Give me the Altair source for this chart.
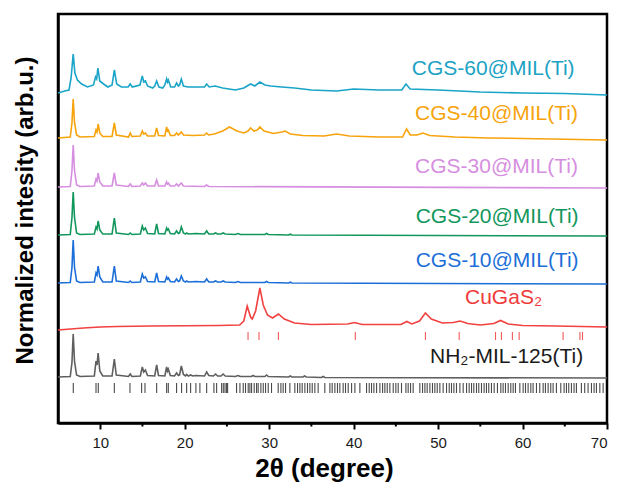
import altair as alt
import pandas as pd

# ---------------- data ----------------
# intensity units: stacked arbitrary units (0..409 across the plot)
series_names = ["CGS-60@MIL(Ti)", "CGS-40@MIL(Ti)", "CGS-30@MIL(Ti)",
                "CGS-20@MIL(Ti)", "CGS-10@MIL(Ti)", "CuGaS2", "NH2-MIL-125(Ti)"]
series_colors = ["#19a4c8", "#f7a30c", "#d68ee0", "#11975c", "#1c6fd8", "#f24141", "#5f5f5f"]

cgs60_pts = [(5.0,330),(5.8,332),(6.3,333),(6.55,345),(6.8,369),(7.0,350),(7.3,343),(7.8,339),(8.5,336),
             (9.2,338),(9.45,346),(9.58,344),(9.72,355),(9.95,342),(10.4,339),(10.9,336),(11.4,338),(11.67,353),
             (11.95,339),(12.5,336),(13.3,336),(13.55,339),(13.8,336),(14.7,338),(14.98,347),(15.15,341),
             (15.35,342),(15.6,337),(16.2,335),(16.45,337),(16.68,342),(16.95,336),(17.4,335),(17.65,338),
             (17.86,344),(17.96,341),(18.06,343),(18.35,336),(18.8,336),(19.04,340),(19.25,337),(19.4,338),
             (19.6,344),(19.85,337),(20.4,336),(21.2,336),(22.35,336),(22.6,339),(22.9,336),(23.6,337),
             (24.5,335),(26.0,333),(27.0,335),(27.8,339),(28.3,337),(28.9,341),(29.5,338),(30.2,337),
             (31.5,336),(33.0,335),(35.0,333),(38.0,332),(40.0,334),(43.0,333),(45.7,333),(46.2,339),
             (46.7,334),(50.0,333),(55.0,331),(60.0,330),(65.0,329.5),(70.0,328)]

cgs40_pts = [(5.0,285),(6.45,286),(6.65,300),(6.8,324),(6.95,301),(7.2,288),(7.6,286),
             (9.3,286.5),(9.5,293),(9.62,291),(9.75,299),(9.95,290),(10.3,286.5),
             (11.4,286.5),(11.67,300),(11.9,288),(13.35,286),(13.55,290),(13.75,286.5),
             (14.75,287),(14.98,292),(15.15,289),(15.35,290),(15.6,287),
             (16.45,287),(16.68,295),(16.9,287.5),(17.65,287),(17.86,296),(17.96,292),(18.06,293),(18.3,287.5),
             (18.8,287.5),(19.04,290),(19.25,288),(19.6,291),(19.85,288),
             (21.0,287.5),(22.35,288),(22.6,290),(22.85,288),
             (23.5,289),(24.5,292),(25.3,296),(26.2,292),(27.0,290),(27.5,292),(27.8,295),(28.2,292),
             (28.6,293),(28.9,296),(29.4,292),(30.5,289.5),(31.5,291),(31.9,292),(32.5,289),(34.0,287.5),
             (36.5,287),(38.0,289),(39.5,287),(43.0,286),(45.8,286),(46.27,294),(46.7,288),(47.5,288),
             (48.2,290),(49.0,287.5),(52.0,286),(56.0,285),(60.0,284.5),(70.0,283)]

cgs30_pts = [(5.0,236),(6.45,236.5),(6.65,252),(6.8,278),(6.95,253),(7.2,238),(7.6,236.5),
             (9.3,237),(9.5,244),(9.62,242),(9.75,250),(9.95,241),(10.3,237),
             (11.4,237),(11.67,250),(11.9,238),(13.35,236.5),(13.55,239),(13.75,236.5),
             (14.75,237),(14.98,240),(15.15,238),(15.35,240),(15.6,237),
             (16.45,237),(16.68,243),(16.9,237),(17.65,237),(17.86,241),(17.96,239),(18.06,240),(18.3,237),
             (18.8,237),(19.04,239),(19.25,237),(19.6,240),(19.85,237),
             (22.35,236.5),(22.6,238),(22.85,236.5),(70.0,235)]

cgs20_pts = [(5.0,188),(6.45,188.5),(6.65,205),(6.8,231),(6.95,206),(7.2,190),(7.6,188.5),
             (9.3,189),(9.5,196),(9.62,194),(9.75,202),(9.95,193),(10.3,189),
             (11.4,189),(11.67,205),(11.9,190),(13.35,188.5),(13.55,190),(13.75,188.5),
             (14.75,189),(14.98,197),(15.15,193),(15.35,195),(15.6,189.5),
             (16.45,189),(16.68,199),(16.9,189.5),(17.65,189),(17.86,195),(17.96,193),(18.06,194),(18.3,189.5),
             (18.8,189),(19.04,192),(19.25,189.5),(19.4,190),(19.6,196),(19.85,190),
             (20.1,189),(20.23,190),(20.45,189),(21.3,189.5),(22.35,189),(22.6,192),(22.85,189),
             (23.4,189),(23.65,190),(23.9,189),(24.3,189),(24.55,190),(24.8,189),
             (26.0,188.5),(26.3,189.5),(26.6,188.5),(29.5,188.5),(29.7,189.5),(29.9,188.5),
             (32.3,188),(32.5,188.8),(32.7,188),(70.0,187)]

cgs10_pts = [(5.0,140),(6.45,140.5),(6.65,155),(6.8,183),(6.95,156),(7.2,142),(7.6,140.5),
             (9.3,141),(9.5,150),(9.62,148),(9.75,157),(9.95,146),(10.3,141),
             (11.4,141),(11.67,157),(11.9,142),(13.35,140.5),(13.55,142),(13.75,140.5),
             (14.75,141),(14.98,149),(15.15,145),(15.35,146),(15.6,141.5),
             (16.45,141),(16.68,150),(16.9,141.5),(17.65,141),(17.86,146),(17.96,144),(18.06,145),(18.3,141.5),
             (18.8,141),(19.04,144),(19.25,141.5),(19.4,142),(19.6,147),(19.85,142),
             (20.1,141),(20.23,142),(20.45,141),(21.3,141.5),(22.35,141),(22.6,144),(22.85,141),
             (23.4,141),(23.65,142),(23.9,141),(24.3,141),(24.55,142),(24.8,141),
             (26.0,140.5),(26.3,141.5),(26.6,140.5),(29.5,140.5),(29.7,141.5),(29.9,140.5),
             (32.3,140),(32.5,140.8),(32.7,140),(70.0,139)]

cugas2_pts = [(5.0,93),(6.5,94),(8.0,95),(10.0,96),(12.0,96.5),(16.0,97),(20.0,97.2),(24.0,97.5),
              (26.5,98),(27.0,102),(27.4,117),(27.8,106),(28.0,104),(28.4,112),(28.9,135),(29.3,118),
              (29.8,108),(30.4,105),(31.1,109),(31.8,104),(33.0,100),(35.0,98.5),(39.3,99),(40.1,100.5),
              (41.0,98.5),(45.6,98.5),(46.3,101.5),(46.9,99),(47.8,102),(48.5,110),(49.2,104),(50.5,100),
              (51.8,100.5),(52.6,102),(53.5,99.5),(55.0,98),(56.6,99.5),(57.4,102.5),(58.3,99),(60.0,97.5),
              (64.0,97),(70.0,96)]

mil_pts = [(5.0,46),(6.45,46.5),(6.65,60),(6.8,89),(6.95,62),(7.2,48),(7.6,46.5),
           (9.3,47),(9.5,62),(9.62,58),(9.75,70),(9.95,52),(10.3,47),
           (11.4,47),(11.67,64),(11.9,48),(13.35,46.5),(13.55,49),(13.75,46.5),
           (14.75,47),(14.98,56),(15.15,51),(15.35,53),(15.6,47.5),
           (16.45,47),(16.68,58),(16.9,47.5),(17.65,47),(17.86,56),(17.96,52),(18.06,54),(18.3,47.5),
           (18.8,47),(19.04,50),(19.25,47.5),(19.4,48),(19.6,57),(19.85,48.5),
           (20.1,47),(20.23,48.5),(20.45,47),(20.7,48),(20.95,47),(21.3,47.5),
           (22.35,47),(22.6,51),(22.85,47.5),(23.4,47),(23.65,49),(23.9,47),(24.3,47),(24.55,49),(24.8,47),
           (26.0,46.5),(26.3,47.5),(26.6,46.5),(27.9,46.5),(28.1,47.5),(28.3,46.5),
           (29.5,46.5),(29.7,48),(29.9,46.5),(32.3,46),(32.5,47),(32.7,46),
           (34.0,46),(34.2,47),(34.4,46),(36.2,45.5),(36.4,46.5),(36.6,45.5),(70.0,45)]

# reference (standard) reflection positions
cugas2_ref = [27.5, 28.8, 31.1, 40.2, 48.5, 52.5, 56.8, 57.5, 58.8, 59.6, 64.8, 66.8, 67.1]
mil_ref = [6.81, 9.50, 9.77, 11.67, 13.52, 14.90, 15.30, 16.68, 17.86, 18.06, 19.04, 19.63, 20.23,
           20.70, 21.33, 21.8, 22.6, 23.46, 23.78, 24.37, 24.57, 24.77, 24.96, 25.08,
           26.14, 26.54, 26.93, 27.2, 27.52, 27.72, 27.92, 28.23, 28.51, 28.7, 29.02, 29.3, 29.57,
           29.89, 30.28, 31.07, 31.39, 31.66, 31.94, 32.45, 33.04, 33.36, 33.64, 33.91, 34.23, 34.54,
           34.82, 35.1, 35.41, 35.8, 36.59, 37.19, 37.46, 37.78, 38.09, 38.37, 38.76, 39.04, 39.36,
           39.76, 40.15, 40.74, 41.53, 41.85, 42.12, 42.4, 42.72, 43.11, 43.43, 43.7, 43.98, 44.29,
           44.69, 45.0, 45.28, 45.67, 46.19, 46.46, 46.74, 47.05, 47.84, 48.16, 48.44, 48.71, 49.03,
           49.34, 49.62, 49.9, 50.21, 50.6, 51.0, 51.32, 51.59, 51.87, 52.18, 52.58, 52.97, 53.37,
           53.68, 53.96, 54.23, 54.55, 54.82, 55.14, 55.45, 55.73, 56.0, 56.32, 56.64, 57.03, 57.43,
           57.7, 57.98, 58.3, 58.61, 58.89, 59.16, 59.68, 60.07, 60.35, 60.66, 60.98, 61.25, 61.65,
           62.04, 62.44, 62.71, 63.03, 63.34, 63.62, 64.01, 64.53, 64.92, 65.2, 65.47, 65.79, 66.1,
           66.38, 66.97, 67.36, 67.76, 68.16, 68.47, 68.75, 69.15, 69.54]
cugas2_ref_span = (83, 91)
mil_ref_span = (30, 40)

label_texts = ["CGS-60@MIL(Ti)", "CGS-40@MIL(Ti)", "CGS-30@MIL(Ti)", "CGS-20@MIL(Ti)",
               "CGS-10@MIL(Ti)", "CuGaS\u2082", "NH\u2082-MIL-125(Ti)"]
label_x = [46.88, 47.27, 47.27, 47.35, 47.35, 53.19, 49.04]
label_y = [348, 303, 250, 200, 156, 119, 60]
label_colors = ["#1ba2c4", "#f7a30c", "#d68ee0", "#11975c", "#1c6fd8", "#f03a3a", "#1a1a1a"]

x_ticks = [10, 20, 30, 40, 50, 60, 70]
x_minor = [15, 25, 35, 45, 55, 65]

# ---------------- build tables ----------------
all_pts = [cgs60_pts, cgs40_pts, cgs30_pts, cgs20_pts, cgs10_pts, cugas2_pts, mil_pts]
rows = []
for name, col, pts in zip(series_names, series_colors, all_pts):
    for i, (xv, yv) in enumerate(pts):
        rows.append({"s": name, "c": col, "x": xv, "y": yv, "o": i})
df = pd.DataFrame(rows)

ref_rows = []
for xv in cugas2_ref:
    ref_rows.append({"x": xv, "y": cugas2_ref_span[0], "y2": cugas2_ref_span[1], "c": "#f25a5a"})
for xv in mil_ref:
    ref_rows.append({"x": xv, "y": mil_ref_span[0], "y2": mil_ref_span[1], "c": "#4a4a4a"})
ref_df = pd.DataFrame(ref_rows)

lab_df = pd.DataFrame({"t": label_texts, "x": label_x, "y": label_y, "c": label_colors})
minor_df = pd.DataFrame({"x": x_minor})

FONT = "Liberation Sans"
xs = alt.Scale(domain=[5, 70], nice=False, zero=False)
ys = alt.Scale(domain=[0, 409], nice=False, zero=False)

X = alt.X("x:Q", scale=xs, title="2θ (degree)",
          axis=alt.Axis(values=x_ticks, format="d", grid=False, labelFontSize=15, labelFont=FONT,
                        labelColor="#1a1a1a", tickSize=6, tickWidth=2, tickColor="black",
                        domainColor="black", domainWidth=2.5, labelPadding=6,
                        titleFontSize=26, titleFont=FONT, titleFontWeight="bold", titleColor="black",
                        titleX=266, titleY=53, titleBaseline="alphabetic"))
Y = alt.Y("y:Q", scale=ys, title="Normalized intesity (arb.u.)",
          axis=alt.Axis(labels=False, ticks=False, grid=False, domainColor="black", domainWidth=2.5,
                        titleFontSize=24, titleFont=FONT, titleFontWeight="bold", titleColor="black",
                        titleX=-33, titleY=196, titleBaseline="middle"))

lines = alt.Chart(df).mark_line(strokeWidth=1.6).encode(
    x=X, y=Y,
    color=alt.Color("c:N", scale=None),
    detail="s:N",
    order="o:Q",
)

refs = alt.Chart(ref_df).mark_rule(strokeWidth=1.1).encode(
    x=X, y=Y, y2="y2:Q",
    color=alt.Color("c:N", scale=None),
)

minor = alt.Chart(minor_df).mark_rule(strokeWidth=2, color="black").encode(
    x=X,
    y=alt.value(409),
    y2=alt.value(412.5),
)

labels = alt.Chart(lab_df).mark_text(align="left", baseline="alphabetic", fontSize=21, font=FONT).encode(
    x=X, y=Y,
    text="t:N",
    color=alt.Color("c:N", scale=None),
)

chart = alt.layer(lines, refs, minor, labels).properties(
    width=549, height=409,
    padding={"left": 50, "top": 6, "right": 4, "bottom": 60},
    autosize=alt.AutoSizeParams(type="none"),
    background="white",
).configure_view(stroke="black", strokeWidth=2.5)

chart.save("out.html", embed_options={"renderer": "svg", "actions": False})
